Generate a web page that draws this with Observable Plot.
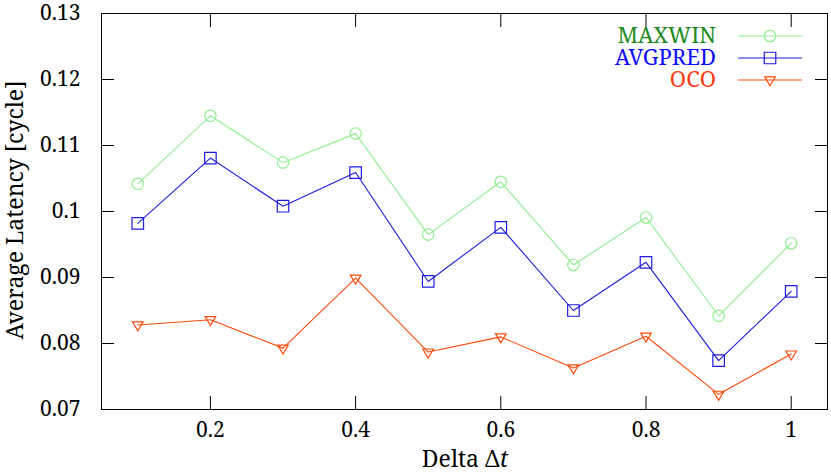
<!DOCTYPE html>
<html>
<head>
<meta charset="utf-8">
<script src="https://cdn.jsdelivr.net/npm/d3@7"></script>
<script src="https://cdn.jsdelivr.net/npm/@observablehq/plot@0.6"></script>
<style>
  html, body { margin: 0; padding: 0; background: white; }
  svg text { font-family: "Noto Serif", serif; }
</style>
</head>
<body>
<div id="chart"></div>
<script>
const deltas  = [0.1, 0.2, 0.3, 0.4, 0.5, 0.6, 0.7, 0.8, 0.9, 1.0];
const maxwin  = [0.1042, 0.1145, 0.1074, 0.1118, 0.0965, 0.1045, 0.0919, 0.0991, 0.0842, 0.0952];
const avgpred = [0.0982, 0.1081, 0.1008, 0.1059, 0.0894, 0.0976, 0.0850, 0.0923, 0.0774, 0.0879];
const oco     = [0.0828, 0.0836, 0.0793, 0.0899, 0.0787, 0.0810, 0.0763, 0.0811, 0.0723, 0.0784];

const seriesNames = ["MAXWIN", "AVGPRED", "OCO"];
const lineColors  = ["#90ee90", "#1c1ce0", "#ff4a0a"];
const labelColors = ["#228b22", "#0a0aff", "#ff3a10"];

const xTicks = [0.2, 0.4, 0.6, 0.8, 1];
const yTicks = [0.07, 0.08, 0.09, 0.1, 0.11, 0.12, 0.13];
const xTitle = ["Delta Δ", "t"];
const yTitle = "Average Latency [cycle]";

const FONT = "Noto Serif";

const triangleDown = {
  draw(context, size) {
    const r = Math.sqrt(size / Math.PI);
    const s = r * 0.95, top = r * 0.55, bot = r * 1.05;
    context.moveTo(-s, -top);
    context.lineTo(s, -top);
    context.lineTo(0, bot);
    context.closePath();
  }
};
const symbols = [d3.symbolCircle, d3.symbolSquare, triangleDown];
const radii = [5.7, 6.5, 5.6];
const seriesValues = [maxwin, avgpred, oco];

const rows = seriesNames.map((name, i) =>
  deltas.map((d, j) => ({series: name, x: d, y: seriesValues[i][j]}))
);

const fmt = d => String(+d.toFixed(2));
const noText = () => "";

const marks = [
  Plot.frame({stroke: "#000", strokeWidth: 1}),
  Plot.axisX({ticks: xTicks, tickSize: 0, tickPadding: 13, tickFormat: fmt, label: null, fontSize: 21}),
  Plot.axisX({ticks: xTicks, tickSize: 13, dy: -13, tickFormat: noText, label: null}),
  Plot.axisX({anchor: "top", ticks: xTicks, tickSize: 13, dy: 13, tickFormat: noText, label: null}),
  Plot.axisY({ticks: yTicks, tickSize: 0, tickPadding: 21, tickFormat: fmt, label: null, fontSize: 21}),
  Plot.axisY({ticks: yTicks, tickSize: 13, dx: 13, tickFormat: noText, label: null}),
  Plot.axisY({anchor: "right", ticks: yTicks, tickSize: 13, dx: -13, tickFormat: noText, label: null})
];
rows.forEach((data, i) => {
  marks.push(Plot.line(data, {x: "x", y: "y", stroke: lineColors[i], strokeWidth: 1.1}));
  marks.push(Plot.dot(data, {x: "x", y: "y", symbol: symbols[i], r: radii[i], stroke: lineColors[i], strokeWidth: 1.2, fill: "none"}));
});

const chart = Plot.plot({
  width: 831,
  height: 474,
  marginLeft: 101,
  marginRight: 4,
  marginTop: 13,
  marginBottom: 65,
  x: {domain: [0.05, 1.05]},
  y: {domain: [0.07, 0.13]},
  style: {fontFamily: FONT, fontSize: "21px", color: "black", background: "white", overflow: "visible"},
  marks
});
document.getElementById("chart").appendChild(chart);

const svg = d3.select(chart);

// y title
svg.append("text")
  .attr("transform", "translate(23,210) rotate(-90)")
  .attr("text-anchor", "middle")
  .style("font-family", FONT).attr("font-size", 23).attr("fill", "black")
  .text(yTitle);

// x title with italic t
const xt = svg.append("text")
  .attr("x", 465).attr("y", 467)
  .attr("text-anchor", "middle")
  .style("font-family", FONT).attr("font-size", 23).attr("fill", "black");
xt.append("tspan").text(xTitle[0]);
xt.append("tspan").attr("font-style", "italic").text(xTitle[1]);

// legend
const legend = svg.append("g");
seriesNames.forEach((name, i) => {
  const base = 43 + i * 22;
  const cy = base - 7;
  legend.append("text")
    .attr("x", 716).attr("y", base)
    .attr("text-anchor", "end")
    .style("font-family", FONT).attr("font-size", 22)
    .attr("fill", labelColors[i])
    .text(name);
  legend.append("line")
    .attr("x1", 738).attr("x2", 802).attr("y1", cy).attr("y2", cy)
    .attr("stroke", lineColors[i]).attr("stroke-width", 1.1);
  legend.append("path")
    .attr("transform", `translate(770,${cy})`)
    .attr("d", d3.symbol(symbols[i], radii[i] * radii[i] * Math.PI)())
    .attr("fill", "none").attr("stroke", lineColors[i]).attr("stroke-width", 1.2);
});
</script>
</body>
</html>
